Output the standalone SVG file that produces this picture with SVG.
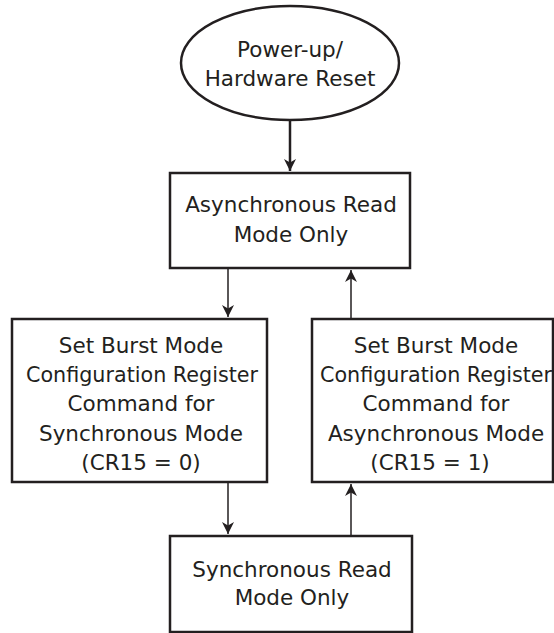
<svg xmlns="http://www.w3.org/2000/svg" width="554" height="633" viewBox="0 0 554 633">
<style>
.shape{fill:#fff;stroke:#231f20;stroke-width:2.5}
.t{font-family:"DejaVu Sans","Verdana",sans-serif;font-size:21.5px;fill:#231f20;text-anchor:middle}
.c{stroke:#231f20;stroke-width:1.5;fill:none}
.c2{stroke:#231f20;stroke-width:2.5;fill:none}
</style>
<defs>
<marker id="ah" markerWidth="12" markerHeight="20" refX="10" refY="5" orient="auto" markerUnits="userSpaceOnUse" viewBox="0 0 10 10">
<path d="M0,0 L10,5 L0,10 L3,5 Z" fill="#231f20"/>
</marker>
</defs>
<rect width="554" height="633" fill="#fff"/>
<g id="connectors">
<line class="c2" x1="290" y1="120" x2="290" y2="171" marker-end="url(#ah)"/>
<line class="c" x1="228" y1="268" x2="228" y2="317" marker-end="url(#ah)"/>
<line class="c" x1="351" y1="319" x2="351" y2="270" marker-end="url(#ah)"/>
<line class="c" x1="228" y1="482" x2="228" y2="534" marker-end="url(#ah)"/>
<line class="c" x1="351" y1="536" x2="351" y2="484" marker-end="url(#ah)"/>
</g>
<g id="reset">
<ellipse class="shape" cx="290" cy="63" rx="109" ry="57"/>
<text class="t" x="290" y="57">Power-up/</text>
<text class="t" x="290" y="86">Hardware Reset</text>
</g>
<g id="async">
<rect class="shape" x="170" y="173" width="240" height="95"/>
<text class="t" x="291" y="212">Asynchronous Read</text>
<text class="t" x="291" y="242">Mode Only</text>
</g>
<g id="setsync">
<rect class="shape" x="12" y="319" width="255" height="163"/>
<text class="t" x="141" y="353">Set Burst Mode</text>
<text class="t" x="142" y="382" textLength="232" lengthAdjust="spacingAndGlyphs">Configuration Register</text>
<text class="t" x="141" y="411">Command for</text>
<text class="t" x="141" y="441">Synchronous Mode</text>
<text class="t" x="141" y="470">(CR15 = 0)</text>
</g>
<g id="setasync">
<rect class="shape" x="312" y="319" width="241" height="163"/>
<text class="t" x="436" y="353">Set Burst Mode</text>
<text class="t" x="436" y="382" textLength="232" lengthAdjust="spacingAndGlyphs">Configuration Register</text>
<text class="t" x="436" y="411">Command for</text>
<text class="t" x="436" y="441">Asynchronous Mode</text>
<text class="t" x="430" y="470">(CR15 = 1)</text>
</g>
<g id="sync">
<rect class="shape" x="170" y="536" width="242" height="96"/>
<text class="t" x="292" y="577">Synchronous Read</text>
<text class="t" x="292" y="605">Mode Only</text>
</g>
</svg>
